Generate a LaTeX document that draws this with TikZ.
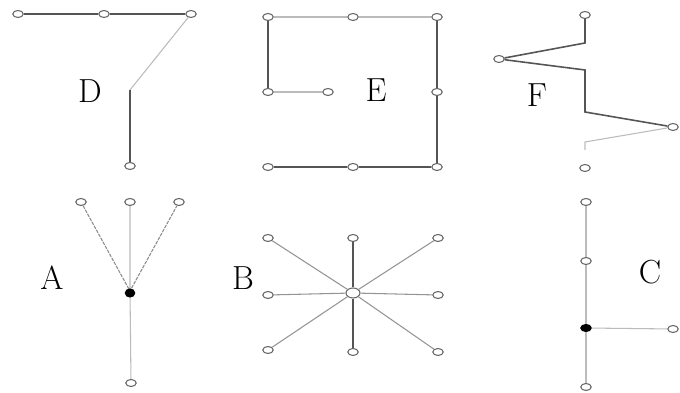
\documentclass[tikz,border=0pt]{standalone}
\usepackage{xcolor}
\usetikzlibrary{shapes.geometric}
\definecolor{NetDark}{HTML}{555555}
\definecolor{NetLight}{HTML}{BBBBBB}
\definecolor{NetRing}{HTML}{666666}
\tikzset{
  site/.style={ellipse,draw=NetRing,fill=white,line width=0.6pt,inner sep=0pt,minimum width=0.21cm,minimum height=0.14cm},
  hub/.style={site,fill=black,draw=black},
  heavy/.style={draw=NetDark,line width=0.9pt},
  thin/.style={draw=NetLight,line width=0.6pt},
  tag/.style={font=\fontsize{19}{21}\selectfont}
}
\begin{document}
\begin{tikzpicture}[x=1cm,y=1cm]
\path[use as bounding box] (0,0) rectangle (13.60,7.86);
% D
\coordinate (dk) at (2.60,6.06);
\node[site] (d1) at (0.36,7.58) {};
\node[site] (d2) at (2.08,7.58) {};
\node[site] (d3) at (3.82,7.58) {};
\node[site] (d4) at (2.60,4.54) {};
\draw[heavy] (d1) -- (d2) -- (d3);
\draw[thin] (d3) -- (dk);
\draw[heavy] (dk) -- (d4);
\node[tag] (dl) at (1.80,6.04) {D};
% E
\node[site] (e1) at (5.36,7.52) {};
\node[site] (e2) at (7.06,7.52) {};
\node[site] (e3) at (8.74,7.52) {};
\node[site] (e4) at (5.36,6.02) {};
\node[site] (e5) at (6.56,6.02) {};
\node[site] (e6) at (8.74,6.02) {};
\node[site] (e7) at (5.36,4.52) {};
\node[site] (e8) at (7.06,4.52) {};
\node[site] (e9) at (8.74,4.52) {};
\draw[thin] (e1) -- (e2) -- (e3);
\draw[heavy] (e1) -- (e4);
\draw[thin] (e4) -- (e5);
\draw[heavy] (e3) -- (e6) -- (e9);
\draw[heavy] (e7) -- (e8) -- (e9);
\node[tag] (el) at (7.52,6.06) {E};
% F
\coordinate (fa) at (11.70,7.00);
\coordinate (fb) at (11.70,6.46);
\coordinate (fc) at (11.70,5.62);
\coordinate (fd) at (11.70,5.02);
\coordinate (fe) at (11.70,4.86);
\node[site] (f1) at (11.70,7.56) {};
\node[site] (f2) at (9.98,6.68) {};
\node[site] (f3) at (13.46,5.32) {};
\node[site] (f4) at (11.70,4.50) {};
\draw[heavy] (f1) -- (fa) -- (f2) -- (fb) -- (fc) -- (f3);
\draw[thin] (f3) -- (fd) -- (fe);
\node[tag] (fl) at (10.74,5.96) {F};
% A
\coordinate (ak) at (2.60,2.04);
\node[site] (a1) at (1.62,3.82) {};
\node[site] (a2) at (2.60,3.82) {};
\node[site] (a3) at (3.58,3.82) {};
\node[site] (a4) at (2.62,0.20) {};
\draw[thin,draw=NetRing!75,dash pattern=on 2pt off 0.6pt] (a1) -- (ak) -- (a3);
\draw[thin] (a2) -- (ak) -- (a4);
\node[hub,minimum width=0.19cm,minimum height=0.16cm] (a0) at (2.60,2.00) {};
\node[tag] (al) at (1.04,2.30) {A};
% B
\node[site] (b1) at (5.36,3.10) {};
\node[site] (b2) at (7.06,3.10) {};
\node[site] (b3) at (8.76,3.10) {};
\node[site] (b4) at (5.36,1.96) {};
\node[site] (b5) at (8.76,1.96) {};
\node[site] (b6) at (5.36,0.86) {};
\node[site] (b7) at (7.06,0.82) {};
\node[site] (b8) at (8.76,0.82) {};
\node[site,minimum width=0.28cm,minimum height=0.2cm] (b0) at (7.06,2.00) {};
\foreach \s in {b1,b3,b4,b5,b6,b8}
  \draw[thin,draw=NetRing!70] (b0) -- (\s);
\draw[heavy] (b2) -- (b0) -- (b7);
\node[tag] (bl) at (4.86,2.30) {B};
% C
\node[site] (c1) at (11.72,3.82) {};
\node[site] (c2) at (11.72,2.64) {};
\node[site] (c3) at (11.72,0.12) {};
\node[site] (c4) at (13.46,1.28) {};
\node[hub] (c0) at (11.72,1.30) {};
\draw[thin] (c1) -- (c2) -- (c0) -- (c3);
\draw[thin] (c0) -- (c4);
\node[tag] (cl) at (13.00,2.42) {C};
\end{tikzpicture}
\end{document}
